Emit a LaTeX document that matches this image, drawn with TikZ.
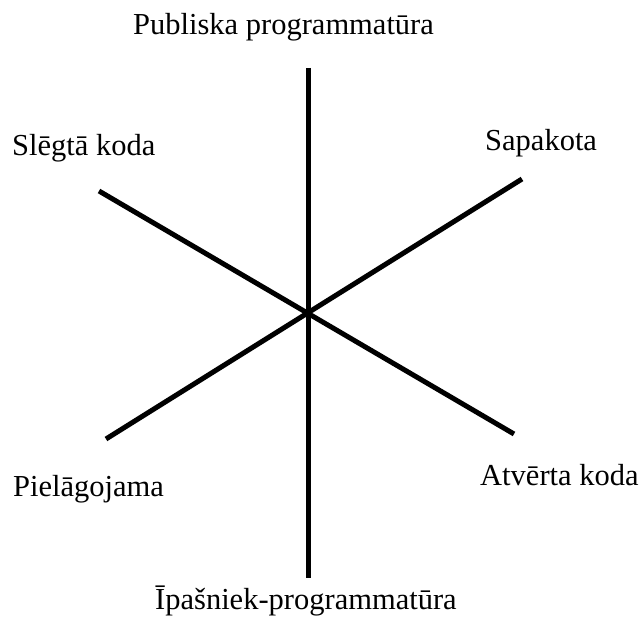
\documentclass[tikz,border=0pt]{standalone}
\usepackage{fontspec}
\setmainfont{Liberation Serif}
\begin{document}
\begin{tikzpicture}[x=1pt,y=-1pt,
  spoke/.style={line width=5pt,black},
  lbl/.style={anchor=base west,inner sep=0pt,font=\fontsize{30.5}{36}\selectfont}]
\useasboundingbox (0,0) rectangle (644,628);
\coordinate (c) at (308,313);
\coordinate (top) at (308,68);
\coordinate (bot) at (308,578);
\coordinate (ul) at (99,191);
\coordinate (lr) at (514,434);
\coordinate (ur) at (522,179);
\coordinate (ll) at (106,439);
\draw[spoke] (top) -- (bot);
\draw[spoke] (ul) -- (lr);
\draw[spoke] (ur) -- (ll);
\node[lbl] (pub) at (133,35) {Publiska programmatūra};
\node[lbl] (sleg) at (12,156) {Slēgtā koda};
\node[lbl] (sap) at (485,151) {Sapakota};
\node[lbl] (piel) at (13,496) {Pielāgojama};
\node[lbl] (atv) at (480,485) {Atvērta koda};
\node[lbl] (ipas) at (155,609) {Īpašniek-programmatūra};
\end{tikzpicture}
\end{document}
